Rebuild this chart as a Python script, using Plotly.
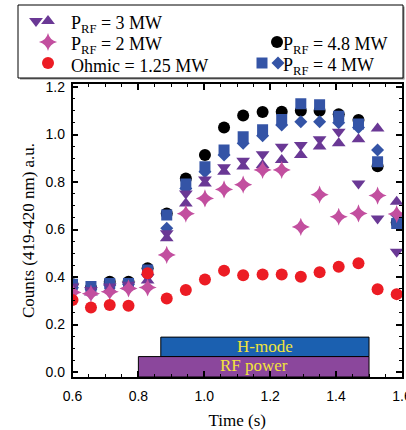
import plotly.graph_objects as go

# ---------------- data ----------------
time_s = [0.600, 0.656, 0.713, 0.770, 0.828, 0.886, 0.944, 1.002, 1.060,
          1.118, 1.177, 1.235, 1.293, 1.350, 1.408, 1.468, 1.526, 1.584]

p48_circle = [0.370, 0.355, 0.380, 0.380, 0.437, 0.668, 0.815, 0.914, 1.030,
              1.080, 1.095, 1.096, 1.100, 1.100, 1.086, 1.061, 0.867, 0.630]
p4_square = [0.370, 0.360, 0.373, 0.373, 0.430, 0.661, 0.792, 0.864, 0.935,
             0.991, 1.020, 1.064, 1.130, 1.126, 1.077, 1.045, 0.886, 0.626]
p4_diamond = [0.355, 0.350, 0.365, 0.370, 0.410, 0.605, 0.773, 0.843, 0.914,
              0.963, 0.995, 1.040, 1.054, 1.054, 1.050, 1.030, 0.935, 0.661]
p3_down = [0.360, 0.345, 0.360, 0.368, 0.400, 0.584, 0.752, 0.811, 0.862,
           0.890, 0.917, 0.949, 0.956, 0.980, 1.012, 0.794, 0.647, 0.507]
p3_up = [0.345, 0.335, 0.350, 0.360, 0.385, 0.563, 0.710, 0.794, 0.843,
         0.866, 0.872, 0.893, 0.914, 0.950, 0.963, 0.980, 1.026, 0.717]
p2_star = [0.335, 0.330, 0.338, 0.352, 0.356, 0.493, 0.667, 0.731, 0.769,
           0.789, 0.851, 0.851, 0.611, 0.747, 0.654, 0.668, 0.743, 0.665]
ohmic = [0.303, 0.272, 0.282, 0.279, 0.416, 0.310, 0.345, 0.390, 0.427,
         0.408, 0.411, 0.411, 0.401, 0.420, 0.443, 0.458, 0.349, 0.328]

phase_labels = ["H-mode", "RF power"]
phase_start = [0.868, 0.800]
phase_end = [1.500, 1.500]
phase_low = [0.065, -0.021]
phase_high = [0.147, 0.065]

legend_labels = ["P<sub>RF</sub> = 3 MW", "P<sub>RF</sub> = 2 MW",
                 "Ohmic = 1.25 MW", "P<sub>RF</sub> = 4.8 MW",
                 "P<sub>RF</sub> = 4 MW"]

# ---------------- styles ----------------
W, H = 406, 430
PL, PR, PT, PB = 72.5, 402, 84, 377   # plot area in pixels
PURPLE = "#6a3895"
PINK = "#c24f9f"
RED = "#ec1c24"
BLUE = "#3454a6"
BLACK = "#000000"
SERIF = "Liberation Serif"
SANS = "Liberation Sans"

def fx(px):
    return px / W

def fy(py):
    return 1 - py / H

fig = go.Figure()

series = [
    (p48_circle, "circle", BLACK, 12),
    (p4_diamond, "diamond", BLUE, 10),
    (p4_square, "square", BLUE, 11),
    (p3_down, "triangle-down", PURPLE, 12),
    (p3_up, "triangle-up", PURPLE, 12),
    (p2_star, "star-diamond", PINK, 13),
    (ohmic, "circle", RED, 12),
]
for ys, sym, col, sz in series:
    fig.add_trace(go.Scatter(x=time_s, y=ys, mode="markers",
                             marker=dict(symbol=sym, color=col, size=sz,
                                         line=dict(width=0)),
                             showlegend=False, hoverinfo="skip"))

# phase bars
bar_fill = ["#1b60b0", "#8b479c"]
for lab, x0, x1, y0, y1, c in zip(phase_labels, phase_start, phase_end,
                                  phase_low, phase_high, bar_fill):
    fig.add_shape(type="rect", xref="x", yref="y", x0=x0, x1=x1, y0=y0, y1=y1,
                  fillcolor=c, line=dict(color="black", width=1), layer="below")
    fig.add_annotation(x=(x0 + x1) / 2, y=(max(y0, 0) + y1) / 2 - (0.004 if y0 < 0 else 0),
                       xref="x", yref="y", text=lab, showarrow=False,
                       font=dict(family=SERIF, size=17, color="#f2e43a"))

# ---------------- manual legend (drawn on a pixel-scaled overlay axis) ----------------
fig.add_shape(type="rect", xref="x2", yref="y2",
              x0=20, x1=404.5, y0=79.5, y1=6.5,
              fillcolor="#8a8a8a", line=dict(width=0), layer="below")
fig.add_shape(type="rect", xref="x2", yref="y2",
              x0=18, x1=403, y0=78, y1=5,
              fillcolor="white", line=dict(color="black", width=1), layer="below")

leg_sym_x = [[36, 48], [48], [48], [277], [262, 278]]
leg_sym_y = [21, 42, 63, 42, 63]
leg_syms = [[("triangle-down", PURPLE, 12), ("triangle-up", PURPLE, 12)],
            [("star-diamond", PINK, 13)],
            [("circle", RED, 12)],
            [("circle", BLACK, 12)],
            [("square", BLUE, 11), ("diamond", BLUE, 10)]]
leg_text_x = [70, 70, 70, 282, 282]

for xs, yv, syms in zip(leg_sym_x, leg_sym_y, leg_syms):
    for xv, (sym, col, sz) in zip(xs, syms):
        fig.add_trace(go.Scatter(x=[xv], y=[yv], xaxis="x2", yaxis="y2",
                                 mode="markers", cliponaxis=False,
                                 marker=dict(symbol=sym, color=col, size=sz),
                                 showlegend=False, hoverinfo="skip"))

for lab, tx, yv in zip(legend_labels, leg_text_x, leg_sym_y):
    fig.add_annotation(x=tx, y=yv + 3, xref="x2", yref="y2",
                       xanchor="left", yanchor="middle", text=lab,
                       showarrow=False, borderpad=0,
                       font=dict(family=SERIF, size=18, color="black"))

axis_common = dict(showline=True, linecolor="black", linewidth=1.5,
                   mirror="ticks", ticks="inside", ticklen=6,
                   tickwidth=1.5, tickcolor="black", showgrid=False,
                   zeroline=False, automargin=False, ticklabeloverflow="allow",
                   tickfont=dict(family=SANS, size=14, color="black"),
                   minor=dict(ticks="inside", ticklen=3, tickwidth=1.2,
                              tickcolor="black", dtick=0.05, showgrid=False))

fig.update_layout(
    width=W, height=H,
    margin=dict(l=0, r=0, t=0, b=0, pad=0, autoexpand=False),
    paper_bgcolor="white", plot_bgcolor="rgba(0,0,0,0)",
    showlegend=False,
    xaxis=dict(domain=[fx(PL), fx(PR)], range=[0.6, 1.6001], dtick=0.2,
               tick0=0.6, tickformat=".1f", anchor="y", ticklabelstandoff=5,
               title=dict(text="Time (s)", standoff=14,
                          font=dict(family=SERIF, size=17, color="black")),
               **axis_common),
    yaxis=dict(domain=[fy(PB), fy(PT)], range=[-0.021, 1.213], dtick=0.2,
               tick0=0, tickformat=".1f", anchor="x", ticklabelstandoff=3,
               title=dict(text="Counts (419-420 nm) a.u.", standoff=7,
                          font=dict(family=SERIF, size=17, color="black")),
               **axis_common),
    xaxis2=dict(domain=[0, 1], range=[0, W], visible=False, anchor="y2",
                fixedrange=True, automargin=False),
    yaxis2=dict(domain=[0, 1], range=[H, 0], visible=False, anchor="x2",
                fixedrange=True, automargin=False),
)

fig.write_html("out.html")
